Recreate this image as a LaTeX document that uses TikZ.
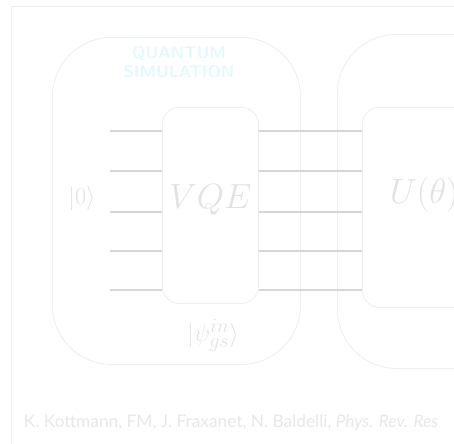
\documentclass[tikz,border=0pt]{standalone}
\usepackage{amsmath,amssymb}
\usepackage{xcolor}
\usepackage{fontspec}
\newfontfamily\capfont{Lato}
\usetikzlibrary{positioning,calc}
\definecolor{framegray}{RGB}{236,238,236}
\definecolor{wiregray}{RGB}{212,216,212}
\definecolor{textgray}{RGB}{224,227,224}
\definecolor{capgray}{RGB}{230,232,230}
\definecolor{simcyan}{RGB}{228,249,252}
\tikzset{
panel/.style={
draw=framegray,
rounded corners=42,
line width=0.6pt
},
gatebox/.style={
draw=framegray,
rounded corners=12,
line width=0.6pt
},
wire/.style={
draw=wiregray,
line width=0.8pt
}
}

\begin{document}
\begin{tikzpicture}[x=0.025cm,y=-0.025cm]
\useasboundingbox (0,0) rectangle (454,443);
\clip (0,0) rectangle (454,443);
\draw[framegray,line width=0.6pt] (11,480) -- (11,6) -- (480,6);
\node[panel,minimum width=248*0.025cm,minimum height=327*0.025cm,anchor=north west](sim) at (52,37){};
\node[panel,minimum width=248*0.025cm,minimum height=334*0.025cm,anchor=north west](rep) at (337,34){};
\node[gatebox,minimum width=96*0.025cm,minimum height=196*0.025cm,anchor=north west](vqe) at (162,107){};
\node[gatebox,minimum width=150*0.025cm,minimum height=200*0.025cm,anchor=north west](ut) at (362,107){};

\node[text=simcyan,font=\sffamily\bfseries\fontsize{12}{13.5}\selectfont,align=center](title) at (179,62){QUANTUM\\SIMULATION};
\node[text=textgray,font=\fontsize{18}{20}\selectfont](ket) at (82,198){$|0\rangle$};
\node[text=textgray,font=\fontsize{23}{26}\selectfont](vqelab) at (vqe.center |- 0,200){$VQE$};
\node[text=textgray,font=\fontsize{23}{26}\selectfont,anchor=west](ulab) at (385,195){$U(\theta)$};
\node[text=textgray,font=\fontsize{19}{21}\selectfont](gs) at (213,335){$|\psi^{in}_{gs}\rangle$};

\foreach \i/\y in {1/131,2/171,3/212,4/251,5/290}{
\coordinate (in\i) at (110,\y);
\draw[wire](in\i)--(vqe.west |- in\i);
\draw[wire](vqe.east |- in\i)--(ut.west |- in\i);
}

\node[text=capgray,font=\capfont\fontsize{12.3}{15}\selectfont,anchor=west](cite) at (19,423){K. Kottmann, FM, J. Fraxanet, N. Baldelli, \textit{Phys. Rev. Res}};
\end{tikzpicture}
\end{document}
